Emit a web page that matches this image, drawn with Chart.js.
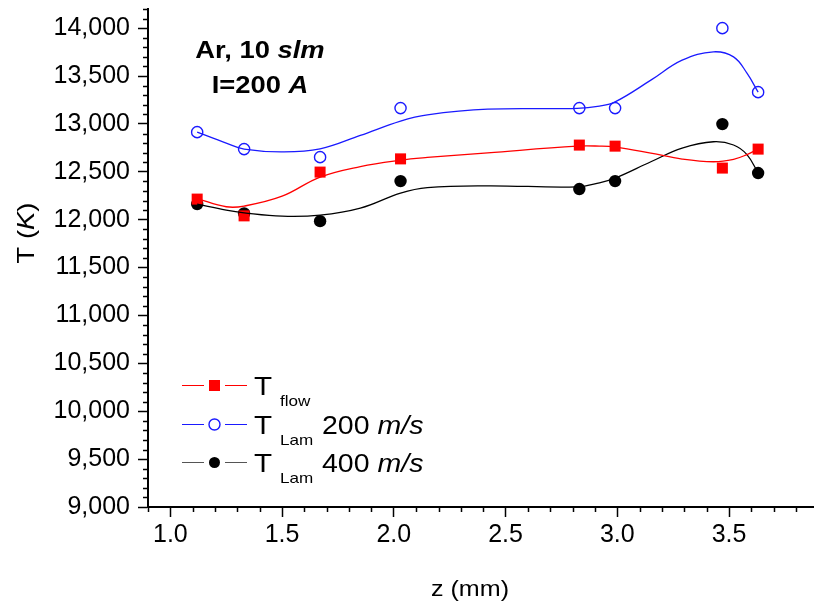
<!DOCTYPE html>
<html>
<head>
<meta charset="utf-8">
<script src="https://cdn.jsdelivr.net/npm/chart.js@4.4.1/dist/chart.umd.min.js"></script>
<style>
  html, body { margin: 0; padding: 0; background: #fff; }
  #wrap { width: 814px; height: 602px; }
</style>
</head>
<body>
<div id="wrap"><canvas id="chart" width="814" height="602"></canvas></div>
<script>
// measured points
const zPts = [1.12, 1.33, 1.67, 2.03, 2.83, 2.99, 3.47, 3.63];
const tFlow = [12215, 12040, 12497, 12635, 12779, 12768, 12539, 12737];
const tLam200 = [12914, 12737, 12653, 13165, 13165, 13165, 14000, 13332];
const tLam400 = [12163, 12066, 11985, 12403, 12320, 12403, 12998, 12487];

// smoothed fit curves
const zFit = [1.12, 1.25, 1.33, 1.5, 1.67, 1.85, 2.03, 2.15, 2.42, 2.82, 2.92, 2.99, 3.15, 3.29, 3.43, 3.52, 3.58, 3.63];
const fitFlow = [12220, 12135, 12142, 12245, 12445, 12555, 12622, 12650, 12698, 12768, 12768, 12758, 12695, 12633, 12605, 12630, 12680, 12737];
const fitLam200 = [12914, 12800, 12737, 12708, 12740, 12880, 13030, 13095, 13154, 13162, 13186, 13230, 13457, 13666, 13753, 13700, 13530, 13332];
const fitLam400 = [12163, 12100, 12072, 12037, 12048, 12121, 12278, 12335, 12354, 12343, 12385, 12434, 12605, 12748, 12814, 12780, 12680, 12487];

const xTicks = [1.0, 1.5, 2.0, 2.5, 3.0, 3.5];
const yTicks = [9000, 9500, 10000, 10500, 11000, 11500, 12000, 12500, 13000, 13500, 14000];

const FONT = "'Liberation Sans', Arial, sans-serif";
const RED = '#ff0000';
const BLUE = '#1a1aff';
const BLACK = '#000000';
const STRETCH = 1.14; // 元の図は文字が横に広い

const pairs = (xs, ys) => xs.map((x, i) => ({ x: x, y: ys[i] }));

// 副目盛り
const minorTicks = {
    id: 'minorTicks',
    afterDraw(chart) {
        const ctx = chart.ctx;
        const xs = chart.scales.x, ys = chart.scales.y;
        const area = chart.chartArea;
        ctx.save();
        ctx.strokeStyle = '#000';
        ctx.lineWidth = 1.5;
        ctx.beginPath();
        for (let v = 9; v <= 38; v++) {
            if (v % 5 === 0) continue;
            const px = Math.round(xs.getPixelForValue(v / 10)) + 0.5;
            if (px > area.right) break;
            ctx.moveTo(px, area.bottom);
            ctx.lineTo(px, area.bottom + 5);
        }
        for (let v = 9000; v <= 14200; v += 100) {
            if (v % 500 === 0) continue;
            const py = Math.round(ys.getPixelForValue(v)) + 0.5;
            ctx.moveTo(area.left, py);
            ctx.lineTo(area.left - 5, py);
        }
        ctx.stroke();
        ctx.restore();
    }
};

// テキストを部分ごとに描画（横に引き伸ばす）
function drawRuns(ctx, runs, cx, cy, align) {
    let total = 0;
    runs.forEach(r => { ctx.font = r.font; r.w = ctx.measureText(r.text).width * STRETCH; total += r.w; });
    let x = align === 'center' ? cx - total / 2 : cx;
    runs.forEach(r => {
        ctx.save();
        ctx.font = r.font;
        ctx.textAlign = 'left';
        ctx.textBaseline = 'alphabetic';
        ctx.translate(x, cy);
        ctx.scale(STRETCH, 1);
        ctx.fillText(r.text, 0, 0);
        ctx.restore();
        x += r.w;
    });
}

const decorations = {
    id: 'decorations',
    afterDraw(chart) {
        const ctx = chart.ctx;
        ctx.save();
        ctx.fillStyle = '#000';

        // annotation
        drawRuns(ctx, [
            { text: 'Ar, 10 ', font: 'bold 24px ' + FONT },
            { text: 'slm', font: 'italic bold 24px ' + FONT }
        ], 260, 58, 'center');
        drawRuns(ctx, [
            { text: 'I=200 ', font: 'bold 24px ' + FONT },
            { text: 'A', font: 'italic bold 24px ' + FONT }
        ], 260, 93, 'center');

        // x title
        drawRuns(ctx, [{ text: 'z (mm)', font: '22px ' + FONT }], 470, 596, 'center');

        // y title
        ctx.save();
        ctx.translate(34, 233);
        ctx.rotate(-Math.PI / 2);
        drawRuns(ctx, [
            { text: 'T (', font: '24px ' + FONT },
            { text: 'K', font: 'italic 24px ' + FONT },
            { text: ')', font: '24px ' + FONT }
        ], 0, 0, 'center');
        ctx.restore();

        // legend
        const rows = [
            { y: 385, line: RED, kind: 'square', fill: RED, label: 'flow', extra: '' },
            { y: 424, line: BLUE, kind: 'circle', fill: null, stroke: BLUE, label: 'Lam', extra: '200' },
            { y: 462, line: '#555', kind: 'circle', fill: BLACK, stroke: BLACK, label: 'Lam', extra: '400' }
        ];
        rows.forEach(r => {
            ctx.strokeStyle = r.line;
            ctx.lineWidth = 1.2;
            ctx.beginPath();
            ctx.moveTo(182, r.y + 0.5); ctx.lineTo(204, r.y + 0.5);
            ctx.moveTo(225, r.y + 0.5); ctx.lineTo(247, r.y + 0.5);
            ctx.stroke();
            if (r.kind === 'square') {
                ctx.fillStyle = r.fill;
                ctx.fillRect(209, r.y - 5, 11, 11);
            } else {
                ctx.beginPath();
                ctx.arc(214.5, r.y + 0.5, 5.5, 0, Math.PI * 2);
                if (r.fill) { ctx.fillStyle = r.fill; ctx.fill(); }
                else { ctx.fillStyle = '#fff'; ctx.fill(); ctx.lineWidth = 1.4; ctx.strokeStyle = r.stroke; ctx.stroke(); }
            }
            ctx.fillStyle = '#000';
            drawRuns(ctx, [{ text: 'T', font: '26px ' + FONT }], 254, r.y + 10, 'left');
            drawRuns(ctx, [{ text: r.label, font: '15px ' + FONT }], 280, r.y + 21, 'left');
            if (r.extra) {
                drawRuns(ctx, [
                    { text: r.extra + ' ', font: '25px ' + FONT },
                    { text: 'm/s', font: 'italic 25px ' + FONT }
                ], 322, r.y + 10, 'left');
            }
        });
        ctx.restore();
    }
};

const curveStyle = { showLine: true, pointRadius: 0, borderWidth: 1.3, tension: 0.4, fill: false };

new Chart(document.getElementById('chart'), {
    type: 'scatter',
    data: {
        datasets: [
            Object.assign({ data: pairs(zFit, fitFlow), borderColor: RED }, curveStyle),
            Object.assign({ data: pairs(zFit, fitLam200), borderColor: BLUE }, curveStyle),
            Object.assign({ data: pairs(zFit, fitLam400), borderColor: BLACK }, curveStyle),
            { data: pairs(zPts, tFlow), pointStyle: 'rect', pointRadius: 7.8, backgroundColor: RED, borderColor: RED, borderWidth: 0 },
            { data: pairs(zPts, tLam200), pointStyle: 'circle', pointRadius: 5.6, backgroundColor: '#fff', borderColor: BLUE, borderWidth: 1.4 },
            { data: pairs(zPts, tLam400), pointStyle: 'circle', pointRadius: 6.2, backgroundColor: BLACK, borderColor: BLACK, borderWidth: 0 }
        ]
    },
    options: {
        responsive: false,
        animation: false,
        layout: { autoPadding: false, padding: { top: 9, right: 0, bottom: 0, left: 0 } },
        plugins: { legend: { display: false }, tooltip: { enabled: false } },
        scales: {
            x: {
                type: 'linear',
                min: 0.9,
                max: 3.88,
                afterBuildTicks: s => { s.ticks = xTicks.map(v => ({ value: v })); },
                afterFit: s => { s.height = 95; s.paddingLeft = 0; s.paddingRight = 0; },
                border: { display: true, color: '#000', width: 2 },
                grid: { drawOnChartArea: false, drawTicks: true, tickLength: 10, tickWidth: 1.5, tickColor: '#000' },
                ticks: { color: '#000', font: { family: FONT, size: 25 }, padding: 3, maxRotation: 0,
                         callback: v => v.toFixed(1) }
            },
            y: {
                min: 9000,
                max: 14200,
                afterBuildTicks: s => { s.ticks = yTicks.map(v => ({ value: v })); },
                afterFit: s => { s.width = 148; s.paddingTop = 0; s.paddingBottom = 0; },
                border: { display: true, color: '#000', width: 2 },
                grid: { drawOnChartArea: false, drawTicks: true, tickLength: 10, tickWidth: 1.5, tickColor: '#000' },
                ticks: { color: '#000', font: { family: FONT, size: 25 }, padding: 8,
                         callback: v => v.toLocaleString('en-US') }
            }
        }
    },
    plugins: [minorTicks, decorations]
});
</script>
</body>
</html>
